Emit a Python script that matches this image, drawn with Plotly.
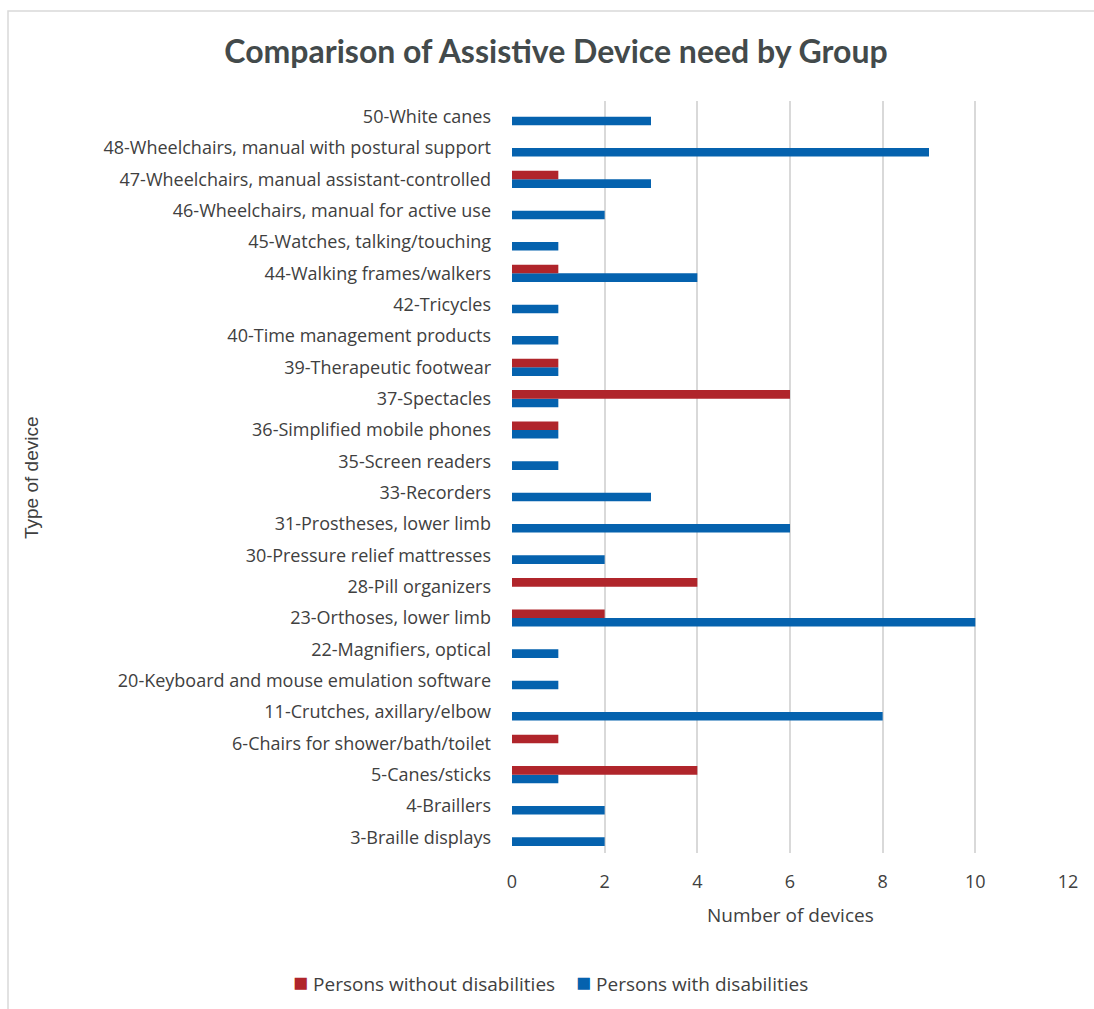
import plotly.graph_objects as go

# Device categories, bottom to top
devices = [
    "3-Braille displays",
    "4-Braillers",
    "5-Canes/sticks",
    "6-Chairs for shower/bath/toilet",
    "11-Crutches, axillary/elbow",
    "20-Keyboard and mouse emulation software",
    "22-Magnifiers, optical",
    "23-Orthoses, lower limb",
    "28-Pill organizers",
    "30-Pressure relief mattresses",
    "31-Prostheses, lower limb",
    "33-Recorders",
    "35-Screen readers",
    "36-Simplified mobile phones",
    "37-Spectacles",
    "39-Therapeutic footwear",
    "40-Time management products",
    "42-Tricycles",
    "44-Walking frames/walkers",
    "45-Watches, talking/touching",
    "46-Wheelchairs, manual for active use",
    "47-Wheelchairs, manual assistant-controlled",
    "48-Wheelchairs, manual with postural support",
    "50-White canes",
]

without_disabilities = [0, 0, 4, 1, 0, 0, 0, 2, 4, 0, 0, 0, 0, 1, 6, 1, 0, 0, 1, 0, 0, 1, 0, 0]
with_disabilities = [2, 2, 1, 0, 8, 1, 1, 10, 0, 2, 6, 3, 1, 1, 1, 1, 1, 1, 4, 1, 2, 3, 9, 3]

x_ticks = [0, 2, 4, 6, 8, 10, 12]

RED = "#B0252B"
BLUE = "#0562AE"
TEXT = "#404040"
GRID = "#D9D9D9"
FONT = "Open Sans, Lato, sans-serif"
TITLE_FONT = "Lato, Open Sans, sans-serif"
SIZE = 18

W, H = 1094, 1009
L, R, T, B = 512, 26, 101, 156
pw, ph = W - L - R, H - T - B


def px_x(p):
    return (p - L) / pw


def px_y(p):
    return (H - B - p) / ph


fig = go.Figure()
fig.add_trace(go.Bar(
    y=devices, x=with_disabilities, orientation="h",
    name="Persons with disabilities", marker=dict(color=BLUE, line=dict(width=0)),
    showlegend=False,
))
fig.add_trace(go.Bar(
    y=devices, x=without_disabilities, orientation="h",
    name="Persons without disabilities", marker=dict(color=RED, line=dict(width=0)),
    showlegend=False,
))

fig.update_layout(
    width=W, height=H,
    margin=dict(l=L, r=R, t=T, b=B),
    paper_bgcolor="white", plot_bgcolor="white",
    barmode="group", bargap=0.45, bargroupgap=0,
    font=dict(family=FONT, color=TEXT, size=SIZE),
    title=dict(
        text="<b>Comparison of Assistive Device need by Group</b>",
        font=dict(family=TITLE_FONT, size=32, color="#434A4B"),
        x=px_x(556), xref="paper", xanchor="center",
        y=1 - 52 / H, yref="container", yanchor="middle",
    ),
    xaxis=dict(
        range=[0, 12], tickvals=x_ticks, showgrid=True, gridcolor=GRID, gridwidth=1.5,
        zeroline=False, showline=False, ticks="", tickfont=dict(family=FONT, size=SIZE, color=TEXT),
        ticklabelstandoff=16,
    ),
    yaxis=dict(
        categoryorder="array", categoryarray=devices, range=[-0.5, len(devices) - 0.5],
        showgrid=False, zeroline=False, showline=False, ticks="",
        tickfont=dict(family=FONT, size=SIZE, color=TEXT), ticklabelstandoff=20,
    ),
)

fig.add_annotation(
    text="Number of devices", x=px_x(790), y=px_y(915), xref="paper", yref="paper",
    showarrow=False, font=dict(family=FONT, size=19, color=TEXT),
    xanchor="center", yanchor="middle",
)
fig.add_annotation(
    text="Type of device", x=px_x(31), y=px_y(478), xref="paper", yref="paper",
    showarrow=False, textangle=-90,
    font=dict(family="Liberation Sans, Arial, sans-serif", size=19, color=TEXT),
    xanchor="center", yanchor="middle",
)

# Series key under the axis
legend_items = [
    ("Persons without disabilities", RED, 291),
    ("Persons with disabilities", BLUE, 574),
]
for label, color, left in legend_items:
    fig.add_annotation(
        text=f"<span style='color:{color};font-size:25px'>■</span> {label}",
        x=px_x(left), y=px_y(981), xref="paper", yref="paper",
        showarrow=False, xanchor="left", yanchor="middle",
        font=dict(family=FONT, size=19, color=TEXT),
    )

# Chart frame
fig.add_shape(
    type="rect", xref="paper", yref="paper",
    x0=px_x(8), x1=px_x(1110), y0=px_y(1030), y1=px_y(11),
    line=dict(color=GRID, width=1.5), fillcolor="rgba(0,0,0,0)", layer="below",
)

fig.write_html("out.html")
